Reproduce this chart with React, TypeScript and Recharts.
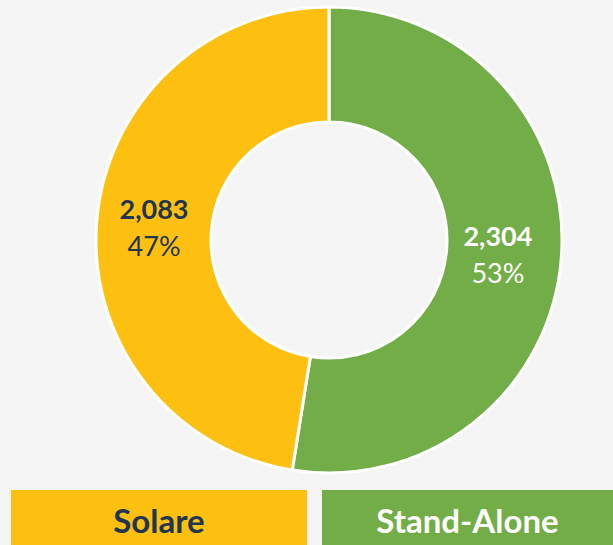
import React from 'react';
import { PieChart, Pie, Cell, Legend } from 'recharts';

const categories = ['Stand-Alone', 'Solare'];
const values = [2304, 2083];
const percents = ['53%', '47%'];
const colors = ['#72AD47', '#FDC010'];
const textColors = ['#ffffff', '#1F3552'];

const data = categories.map((name, i) => ({ name, value: values[i], pct: percents[i] }));

const FONT = 'Lato, "Open Sans", sans-serif';

const renderLabel = (props: any) => {
  const { cx, cy, midAngle, innerRadius, outerRadius, index } = props;
  const RAD = Math.PI / 180;
  const r = (innerRadius + outerRadius) / 2;
  const x = cx + r * Math.cos(-midAngle * RAD) - (index === 0 ? 6 : 0);
  const y = cy + r * Math.sin(-midAngle * RAD);
  const fill = textColors[index];
  return (
    <g>
      <text x={x} y={y - 18} textAnchor="middle" dominantBaseline="central" fill={fill}
        fontFamily={FONT} fontSize={27} fontWeight={700}>
        {values[index].toLocaleString('en-US')}
      </text>
      <text x={x} y={y + 19} textAnchor="middle" dominantBaseline="central" fill={fill}
        fontFamily={FONT} fontSize={27}>
        {percents[index]}
      </text>
    </g>
  );
};

// legend boxes: Solare on the left, Stand-Alone on the right
const LegendBoxes = () => (
  <div style={{ display: 'flex', width: 613, height: 55 }}>
    {[1, 0].map((i, k) => (
      <div key={i} style={{
        marginLeft: k === 0 ? 11 : 15,
        width: k === 0 ? 296 : 291,
        height: 55,
        background: colors[i],
        color: textColors[i],
        fontFamily: FONT,
        fontWeight: 700,
        fontSize: 33,
        display: 'flex',
        alignItems: 'center',
        justifyContent: 'center',
        paddingTop: 4,
        boxSizing: 'border-box',
      }}>
        {categories[i]}
      </div>
    ))}
  </div>
);

export default function App() {
  return (
    <div style={{ position: 'absolute', left: 0, top: 0, width: 613, height: 545, background: '#F5F5F5', overflow: 'hidden' }}>
      <PieChart width={613} height={545} margin={{ top: 0, right: 0, bottom: 0, left: 0 }}>
        <Pie
          data={data}
          dataKey="value"
          nameKey="name"
          cx={329}
          cy={240}
          innerRadius={118}
          outerRadius={233}
          startAngle={90}
          endAngle={-270}
          stroke="#ffffff"
          strokeWidth={3}
          label={renderLabel}
          labelLine={false}
          isAnimationActive={false}
        >
          {data.map((d, i) => (
            <Cell key={d.name} fill={colors[i]} />
          ))}
        </Pie>
        <Legend
          content={<LegendBoxes />}
          wrapperStyle={{ position: 'absolute', top: 490, left: 0, width: 613 }}
        />
      </PieChart>
    </div>
  );
}
